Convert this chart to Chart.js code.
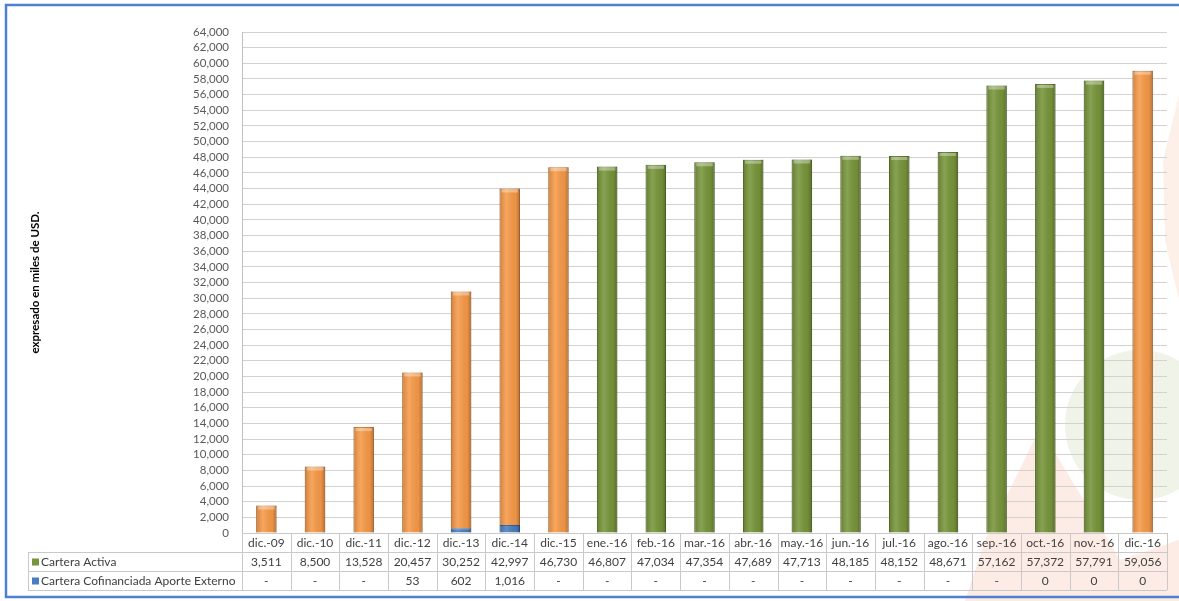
<!DOCTYPE html>
<html>
<head>
<meta charset="utf-8">
<script src="https://cdn.jsdelivr.net/npm/chart.js@4"></script>
<style>
  html, body { margin: 0; padding: 0; background: #fff; }
  #wrap { width: 1179px; height: 601px; }
</style>
</head>
<body>
<div id="wrap"><canvas id="chart" width="1179" height="601"></canvas></div>
<script>
// data
const categories = ['dic.-09', 'dic.-10', 'dic.-11', 'dic.-12', 'dic.-13', 'dic.-14', 'dic.-15',
  'ene.-16', 'feb.-16', 'mar.-16', 'abr.-16', 'may.-16', 'jun.-16', 'jul.-16', 'ago.-16',
  'sep.-16', 'oct.-16', 'nov.-16', 'dic.-16'];
const carteraActiva = [3511, 8500, 13528, 20457, 30252, 42997, 46730, 46807, 47034, 47354,
  47689, 47713, 48185, 48152, 48671, 57162, 57372, 57791, 59056];
// null = "-" in the data table
const cofinanciada = [null, null, null, 53, 602, 1016, null, null, null, null, null, null,
  null, null, null, null, 0, 0, 0];
const seriesNames = ['Cartera Activa', 'Cartera Cofinanciada Aporte Externo'];
const yMax = 64000;
const yStep = 2000;

const ORANGE = '#F79A48', GREEN = '#77953A', BLUE = '#4A7EC0';
const FONT = 'Lato, "Open Sans", sans-serif';
const fmt = v => v == null ? '-' : v.toLocaleString('en-US');

// faded logo shapes + blue frame behind the chart
const backdrop = {
  id: 'backdrop',
  beforeDraw(chart) {
    const c = chart.ctx;
    c.save();
    c.fillStyle = '#fff';
    c.fillRect(0, 0, chart.width, chart.height);
    c.fillStyle = 'rgba(240, 170, 135, 0.22)';
    c.beginPath();
    c.moveTo(1040, 428); c.lineTo(1120, 560); c.lineTo(1179, 540); c.lineTo(1179, 601);
    c.lineTo(965, 601); c.lineTo(985, 540); c.closePath(); c.fill();
    c.fillStyle = 'rgba(240, 170, 135, 0.18)';
    c.beginPath();
    c.moveTo(1179, 95); c.lineTo(1163, 160); c.lineTo(1165, 240); c.lineTo(1179, 300); c.closePath(); c.fill();
    c.fillStyle = 'rgba(195, 208, 160, 0.25)';
    c.beginPath(); c.arc(1140, 425, 75, 0, 2 * Math.PI); c.fill();
    c.restore();
  },
  afterDraw(chart) {
    const c = chart.ctx;
    c.save();
    c.strokeStyle = '#4F7FD0';
    c.lineWidth = 2.5;
    c.strokeRect(6, 5, 1200, 592);
    c.restore();
  }
};

// cylinder-like shading on each bar
const shading = {
  id: 'shading',
  afterDatasetsDraw(chart) {
    const c = chart.ctx;
    chart.data.datasets.forEach((ds, di) => {
      chart.getDatasetMeta(di).data.forEach(bar => {
        const { x, y, base, width } = bar.getProps(['x', 'y', 'base', 'width'], true);
        if (!width || Math.abs(base - y) < 1) return;
        const l = x - width / 2, top = Math.min(y, base), h = Math.abs(base - y);
        const g = c.createLinearGradient(l, 0, l + width, 0);
        g.addColorStop(0, 'rgba(0,0,0,0.18)');
        g.addColorStop(0.35, 'rgba(255,255,255,0.12)');
        g.addColorStop(0.8, 'rgba(0,0,0,0.05)');
        g.addColorStop(1, 'rgba(0,0,0,0.28)');
        c.save();
        c.fillStyle = g;
        c.fillRect(l, top, width, h);
        if (di === 1 && h > 6) {
          c.fillStyle = 'rgba(255,255,255,0.35)';
          c.fillRect(l + 2, top + 1, width - 4, 3);
        }
        c.restore();
      });
    });
  }
};

// Excel style data table under the plot
const dataTable = {
  id: 'dataTable',
  afterDraw(chart) {
    const c = chart.ctx, xs = chart.scales.x, area = chart.chartArea;
    const n = categories.length, colW = (area.right - area.left) / n;
    const y0 = area.bottom, rowH = 19;
    const legendLeft = 28;
    c.save();
    c.strokeStyle = '#c9c9c9';
    c.lineWidth = 1;
    c.beginPath();
    c.moveTo(area.left, y0 + 0.5); c.lineTo(area.right, y0 + 0.5);
    for (let r = 1; r <= 3; r++) {
      const yy = Math.round(y0 + r * rowH) + 0.5;
      c.moveTo(legendLeft, yy); c.lineTo(area.right, yy);
    }
    for (let i = 0; i <= n; i++) {
      const xx = Math.round(area.left + i * colW) + 0.5;
      c.moveTo(xx, y0); c.lineTo(xx, y0 + 3 * rowH);
    }
    c.moveTo(legendLeft + 0.5, y0 + rowH); c.lineTo(legendLeft + 0.5, y0 + 3 * rowH);
    c.stroke();

    c.font = '12px ' + FONT;
    c.fillStyle = '#404040';
    c.textAlign = 'center';
    c.textBaseline = 'middle';
    categories.forEach((lab, i) => {
      const cx = xs.getPixelForValue(i);
      c.fillText(lab, cx, y0 + rowH * 0.5 + 1);
      c.fillText(fmt(carteraActiva[i]), cx, y0 + rowH * 1.5 + 1);
      c.fillText(fmt(cofinanciada[i]), cx, y0 + rowH * 2.5 + 1);
    });
    c.textAlign = 'left';
    [GREEN, BLUE].forEach((col, r) => {
      const cy = y0 + rowH * (1.5 + r);
      c.fillStyle = col;
      c.fillRect(legendLeft + 4, cy - 3, 7, 7);
      c.fillStyle = '#404040';
      c.fillText(seriesNames[r], legendLeft + 13, cy + 1);
    });
    c.restore();
  }
};

new Chart(document.getElementById('chart'), {
  type: 'bar',
  data: {
    labels: categories,
    datasets: [
      {
        label: seriesNames[1],
        data: cofinanciada,
        backgroundColor: BLUE,
        borderColor: '#2F5C95',
        borderWidth: 1,
        barPercentage: 0.42,
        categoryPercentage: 1
      },
      {
        label: seriesNames[0],
        data: carteraActiva,
        backgroundColor: categories.map(l => l.startsWith('dic.') ? ORANGE : GREEN),
        borderColor: categories.map(l => l.startsWith('dic.') ? '#D8792E' : '#5E7A2A'),
        borderWidth: 1,
        barPercentage: 0.42,
        categoryPercentage: 1
      }
    ]
  },
  options: {
    responsive: false,
    animation: false,
    layout: { padding: { left: 28, top: 32, right: 12, bottom: 0 } },
    plugins: { legend: { display: false }, tooltip: { enabled: false } },
    scales: {
      x: {
        stacked: true,
        grid: { display: false },
        border: { display: false },
        ticks: { display: false },
        afterFit(scale) { scale.height = 68; }
      },
      y: {
        stacked: true,
        min: 0,
        max: yMax,
        grid: { color: '#d2d2d2', drawTicks: false, lineWidth: 1 },
        border: { color: '#bfbfbf' },
        ticks: {
          stepSize: yStep,
          autoSkip: false,
          padding: 13,
          color: '#595959',
          font: { family: FONT, size: 11.5 },
          callback: v => v.toLocaleString('en-US')
        },
        title: {
          display: true,
          text: 'expresado en miles de USD.',
          color: '#000',
          padding: 0,
          font: { family: FONT, size: 11.5, weight: 'bold' }
        },
        afterFit(scale) { scale.width = 214; }
      }
    }
  },
  plugins: [backdrop, shading, dataTable]
});
</script>
</body>
</html>
